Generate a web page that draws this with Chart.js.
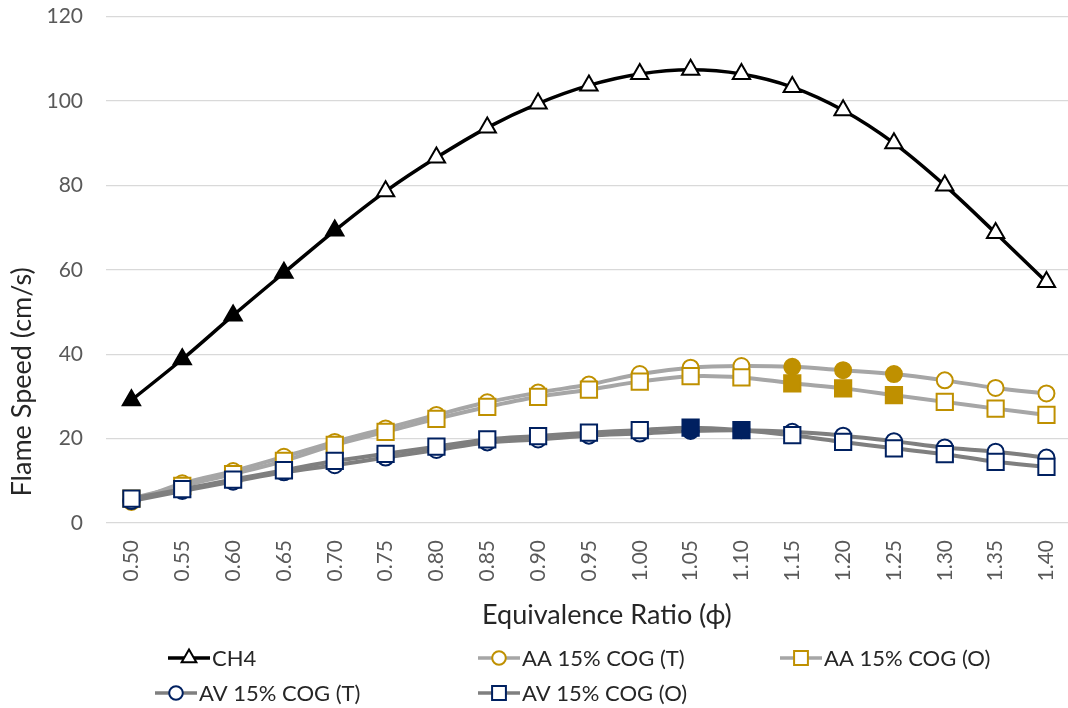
<!DOCTYPE html>
<html>
<head>
<meta charset="utf-8">
<script src="https://cdn.jsdelivr.net/npm/chart.js@4.4.1/dist/chart.umd.min.js"></script>
<style>
  html, body { margin: 0; padding: 0; background: #fff; overflow: hidden; }
  #wrap { width: 1089px; height: 708px; }
</style>
</head>
<body>
<div id="wrap"><canvas id="flameChart" width="1089" height="708"></canvas></div>
<script>
// equivalence ratios (x categories)
const ratios = ['0.50', '0.55', '0.60', '0.65', '0.70', '0.75', '0.80', '0.85', '0.90', '0.95',
  '1.00', '1.05', '1.10', '1.15', '1.20', '1.25', '1.30', '1.35', '1.40'];

// flame speeds, cm/s
const ch4 = [29.1, 38.8, 49.2, 59.3, 69.3, 78.6, 86.6, 93.7, 99.4, 103.7, 106.4, 107.4, 106.4, 103.3, 97.8, 90.0, 80.0, 68.7, 57.1];
const aaT = [5.0, 9.4, 12.3, 15.7, 19.2, 22.4, 25.6, 28.6, 30.9, 32.8, 35.3, 36.8, 37.2, 37.0, 36.2, 35.3, 33.8, 32.0, 30.7];
const aaO = [5.8, 8.8, 11.6, 14.7, 18.5, 21.6, 24.7, 27.5, 29.9, 31.6, 33.5, 34.8, 34.5, 33.1, 31.9, 30.3, 28.7, 27.1, 25.6];
const avT = [5.2, 7.6, 9.8, 12.0, 13.7, 15.5, 17.3, 19.1, 19.8, 20.7, 21.2, 21.8, 22.0, 21.6, 20.7, 19.4, 17.9, 16.9, 15.5];
const avO = [5.8, 8.0, 10.3, 12.5, 14.7, 16.4, 18.1, 19.8, 20.6, 21.4, 22.0, 22.6, 22.0, 20.8, 19.2, 17.7, 16.3, 14.5, 13.3];

const yTicks = [0, 20, 40, 60, 80, 100, 120];

const xTitle = 'Equivalence Ratio (ϕ)';
const yTitle = 'Flame Speed (cm/s)';

const GOLD = '#BF9000';
const NAVY = '#002060';
const FONT = 'Lato, "Open Sans", sans-serif';

// points drawn with a solid marker (from the picture)
function fillSome(color, from, to) {
  return ctx => (ctx.dataIndex >= from && ctx.dataIndex <= to) ? color : '#ffffff';
}

function series(label, data, line, marker, style, radius, solidFrom, solidTo, width, order) {
  return {
    label: label,
    data: data,
    order: order,
    borderColor: line,
    borderWidth: width,
    tension: 0.35,
    pointStyle: style,
    pointRadius: radius,
    pointHoverRadius: radius,
    pointBorderColor: marker,
    pointBorderWidth: 2,
    pointBackgroundColor: fillSome(marker, solidFrom, solidTo),
    fill: false
  };
}

function drawMarker(ctx, style, x, y, r, fill, stroke) {
  ctx.save();
  ctx.beginPath();
  if (style === 'circle') {
    ctx.arc(x, y, r, 0, Math.PI * 2);
  } else if (style === 'rect') {
    const s = r * Math.SQRT1_2;
    ctx.rect(x - s, y - s, 2 * s, 2 * s);
  } else {
    ctx.moveTo(x, y - r);
    ctx.lineTo(x + Math.sin(2 * Math.PI / 3) * r, y + r / 2);
    ctx.lineTo(x - Math.sin(2 * Math.PI / 3) * r, y + r / 2);
    ctx.closePath();
  }
  ctx.fillStyle = fill;
  ctx.fill();
  ctx.lineWidth = 2;
  ctx.strokeStyle = stroke;
  ctx.stroke();
  ctx.restore();
}

// legend laid out in columns like the original
const legendSpots = [[168, 658], [478, 658], [780, 658], [155, 693], [478, 693]];

const columnLegend = {
  id: 'columnLegend',
  afterDraw(chart) {
    const ctx = chart.ctx;
    const area = chart.chartArea;

    // axis titles, placed where the original has them
    ctx.save();
    ctx.fillStyle = '#262626';
    ctx.font = '27px ' + FONT;
    ctx.textAlign = 'center';
    ctx.textBaseline = 'middle';
    ctx.fillText(xTitle, (area.left + area.right) / 2 + 18, 615);
    ctx.translate(22, (area.top + area.bottom) / 2 + 112);
    ctx.rotate(-Math.PI / 2);
    ctx.fillText(yTitle, 0, 0);
    ctx.restore();

    chart.data.datasets.forEach((ds, i) => {
      const [x, y] = legendSpots[i];
      ctx.save();
      ctx.strokeStyle = ds.borderColor;
      ctx.lineWidth = 3.5;
      ctx.beginPath();
      ctx.moveTo(x, y);
      ctx.lineTo(x + 42, y);
      ctx.stroke();
      drawMarker(ctx, ds.pointStyle, x + 21, y, ds.pointRadius * 0.85, '#ffffff', ds.pointBorderColor);
      ctx.fillStyle = '#262626';
      ctx.font = '22px ' + FONT;
      ctx.textAlign = 'left';
      ctx.textBaseline = 'middle';
      ctx.fillText(ds.label, x + 44, y + 1);
      ctx.restore();
    });
  }
};

const ctx = document.getElementById('flameChart').getContext('2d');
new Chart(ctx, {
  type: 'line',
  data: {
    labels: ratios,
    datasets: [
      series('CH4', ch4, '#000000', '#000000', 'triangle', 10, 0, 4, 3.5, 5),
      series('AA 15% COG (T)', aaT, '#A6A6A6', GOLD, 'circle', 8, 13, 15, 4, 4),
      series('AA 15% COG (O)', aaO, '#A6A6A6', GOLD, 'rect', 11.5, 13, 15, 4, 3),
      series('AV 15% COG (T)', avT, '#7F7F7F', NAVY, 'circle', 8, 11, 12, 4, 2),
      series('AV 15% COG (O)', avO, '#7F7F7F', NAVY, 'rect', 11.5, 11, 12, 4, 1)
    ]
  },
  options: {
    responsive: false,
    animation: false,
    layout: { padding: { top: 0, right: 2, bottom: 80, left: 0 } },
    plugins: {
      legend: { display: false },
      tooltip: { enabled: false }
    },
    scales: {
      x: {
        offset: true,
        grid: { display: false, drawTicks: false },
        border: { display: false },
        ticks: {
          color: '#595959',
          font: { family: FONT, size: 21 },
          minRotation: 90,
          maxRotation: 90,
          padding: 17
        },
        afterFit(scale) { scale.height = 105; }
      },
      y: {
        min: 0,
        max: 120,
        afterBuildTicks(scale) { scale.ticks = yTicks.map(v => ({ value: v })); },
        grid: { color: '#D9D9D9', lineWidth: 1.3, drawTicks: true, tickLength: 19, tickColor: 'rgba(0,0,0,0)' },
        border: { display: false },
        ticks: {
          color: '#595959',
          font: { family: FONT, size: 21 },
          padding: 4
        },
        afterFit(scale) { scale.width = 106; }
      }
    }
  },
  plugins: [columnLegend]
});
</script>
</body>
</html>
